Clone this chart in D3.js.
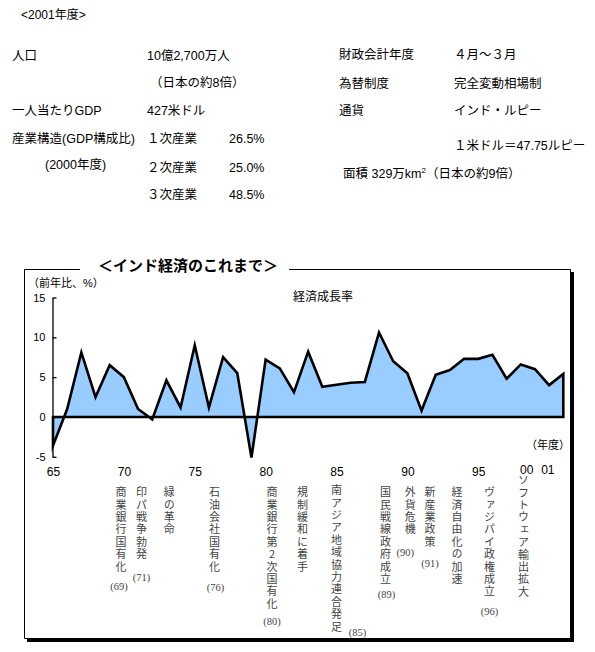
<!DOCTYPE html>
<html><head><meta charset="utf-8">
<script src="https://cdn.jsdelivr.net/npm/d3@7"></script>
<style>
body{margin:0;background:#fff;}
svg{display:block;font-family:"Liberation Sans","Noto Sans CJK JP",sans-serif;}
.vt{writing-mode:vertical-rl;text-orientation:upright;letter-spacing:1.4px;}
</style></head>
<body><svg id="c" width="595" height="652"></svg>
<script>
// ---- data ----
const years = d3.range(1965, 2002);
const growth = [-3.6, 1.0, 8.1, 2.5, 6.5, 5.0, 1.0, -0.3, 4.6, 1.2,
                9.0, 1.2, 7.5, 5.5, -5.1, 7.2, 6.1, 3.1, 8.2, 3.8,
                4.05, 4.3, 4.4, 10.6, 7.0, 5.5, 0.8, 5.3, 5.9, 7.3,
                7.3, 7.8, 4.8, 6.6, 6.0, 4.0, 5.4];
const yTicks = [-5, 0, 5, 10, 15];
const xTicks = [1965, 1970, 1975, 1980, 1985, 1990, 1995, 2000, 2001];
const xTickLabels = ["65", "70", "75", "80", "85", "90", "95", "00", "01"];

const eventTexts = ["商業銀行国有化", "印パ戦争勃発", "緑の革命", "石油会社国有化",
  "商業銀行第2次国有化", "規制緩和に着手", "南アジア地域協力連合発足",
  "国民戦線政府成立", "外貨危機", "新産業政策", "経済自由化の加速",
  "ヴァジパイ政権成立", "ソフトウェア輸出拡大"];
const eventYearLabels = ["(69)", "(71)", "", "(76)", "(80)", "", "(85)",
  "(89)", "(90)", "(91)", "", "(96)", ""];
const eventColumn = [1969.8, 1971.25, 1973.2, 1976.4, 1980.45, 1982.6, 1985.0,
  1988.45, 1990.2, 1991.6, 1993.5, 1995.8, 1998.2];

const infoLeft = [
  ["人口", "10億2,700万人", ""],
  ["", "（日本の約8倍）", ""],
  ["一人当たりGDP", "427米ドル", ""],
  ["産業構造(GDP構成比)", "１次産業", "26.5%"],
  ["(2000年度)", "２次産業", "25.0%"],
  ["", "３次産業", "48.5%"]
];
const infoRight = [
  ["財政会計年度", "４月～３月"],
  ["為替制度", "完全変動相場制"],
  ["通貨", "インド・ルピー"],
  ["", "１米ドル＝47.75ルピー"]
];

// ---- drawing ----
const svg = d3.select("#c");

// header info
svg.append("text").attr("x", 21).attr("y", 19).attr("font-size", 12).text("<2001年度>");
const leftY = [55, 82, 110, 138, 164, 194];
infoLeft.forEach((r, i) => {
  if (r[0]) svg.append("text").attr("x", i === 4 ? 45 : 12).attr("y", leftY[i] + 5).attr("font-size", 12.5).text(r[0]);
  if (r[1]) svg.append("text").attr("x", i === 1 ? 150 : 147).attr("y", (i === 4 ? 167 : leftY[i]) + 5).attr("font-size", 12.5).text(r[1]);
  if (r[2]) svg.append("text").attr("x", 229).attr("y", (i === 4 ? 167 : leftY[i]) + 5).attr("font-size", 12.5).text(r[2]);
});
const rightY = [54, 83, 110, 145];
infoRight.forEach((r, i) => {
  if (r[0]) svg.append("text").attr("x", 339).attr("y", rightY[i] + 5).attr("font-size", 12.5).text(r[0]);
  svg.append("text").attr("x", 454).attr("y", rightY[i] + 5).attr("font-size", 12.5).text(r[1]);
});
const area = svg.append("text").attr("x", 343).attr("y", 178).attr("font-size", 12.5);
area.append("tspan").text("面積 329万km");
area.append("tspan").attr("font-size", 8).attr("dy", -5).text("2");
area.append("tspan").attr("dy", 5).text("（日本の約9倍）");

// frame with shadow
svg.append("rect").attr("x", 570).attr("y", 272).attr("width", 4).attr("height", 370).attr("fill", "#000");
svg.append("rect").attr("x", 27).attr("y", 638).attr("width", 547).attr("height", 4).attr("fill", "#000");
svg.append("path").attr("d", "M80,269.5 H24.5 V638.5 H570.5 V269.5 H289").attr("fill", "none").attr("stroke", "#000").attr("stroke-width", 1);
svg.append("text").attr("x", 188).attr("y", 271).attr("text-anchor", "middle")
  .attr("font-size", 15).attr("font-weight", "bold").attr("font-family", "Noto Sans CJK JP")
  .text("＜インド経済のこれまで＞");

// scales
const x = d3.scaleLinear().domain([1965, 2001]).range([53, 563.3]);
const y = d3.scaleLinear().domain([-5, 15]).range([456.8, 297.5]);

// area
const data = years.map((yr, i) => ({yr, v: growth[i]}));
svg.append("path").datum(data)
  .attr("d", d3.area().x(d => x(d.yr)).y0(y(0)).y1(d => y(d.v)))
  .attr("fill", "#99ccff").attr("stroke", "#000").attr("stroke-width", 2.6)
  .attr("stroke-linejoin", "miter").attr("stroke-miterlimit", 6);

// y axis
const ya = svg.append("g").attr("transform", "translate(52.5,0)")
  .call(d3.axisLeft(y).tickValues(yTicks).tickSizeInner(-4).tickSizeOuter(0).tickPadding(7)
    .tickFormat(d => d < 0 ? "-" + Math.abs(d) : d));
ya.select(".domain").attr("stroke", "#000").attr("stroke-width", 1.3);
ya.selectAll(".tick line").attr("stroke", "#000").attr("stroke-width", 1.3);
ya.selectAll("text").attr("font-size", 11).attr("fill", "#000").attr("font-family", "Liberation Sans");

// x axis labels (the source places "00" and "01" left of their data points)
const xa = svg.append("g").attr("transform", "translate(0,464)")
  .call(d3.axisBottom(x).tickValues(xTicks).tickSize(0).tickPadding(3)
    .tickFormat((d, i) => xTickLabels[i]));
xa.select(".domain").remove();
xa.selectAll("text").attr("font-size", 12).attr("fill", "#000").attr("font-family", "Liberation Sans");
xa.selectAll(".tick").filter(d => d === 2000).select("text").attr("y", 1).attr("dx", -23);
xa.selectAll(".tick").filter(d => d === 2001).select("text").attr("y", 1).attr("dx", -16);

// chart labels
svg.append("text").attr("x", 28).attr("y", 287).attr("font-size", 11).text("（前年比、%）");
svg.append("text").attr("x", 293).attr("y", 301).attr("font-size", 12).text("経済成長率");
svg.append("text").attr("x", 526).attr("y", 449).attr("font-size", 11).text("（年度）");

// vertical event annotations
const topY = eventTexts.map((t, i) => i === 12 ? 480 : (i === 6 ? 490 : 492));
const yearLblPos = [[-2, 586], [0, 577], null, [1, 587], [0, 621], null, [21, 632],
  [1, 594], [-5, 552], [0, 563], null, [0, 611], null];
eventTexts.forEach((t, i) => {
  const cx = x(eventColumn[i]);
  const g = svg.append("g").attr("fill", "#444").attr("font-size", 11).attr("font-family", "Noto Sans CJK JP");
  g.append("text").attr("class", "vt").attr("x", cx).attr("y", topY[i] - 5.5).text(t);
  if (eventYearLabels[i]) {
    const p = yearLblPos[i];
    g.append("text").attr("x", cx + p[0]).attr("y", p[1] + 4).attr("text-anchor", "middle")
      .attr("font-size", 10.5).attr("font-family", "Liberation Serif").text(eventYearLabels[i]);
  }
});
</script></body></html>
